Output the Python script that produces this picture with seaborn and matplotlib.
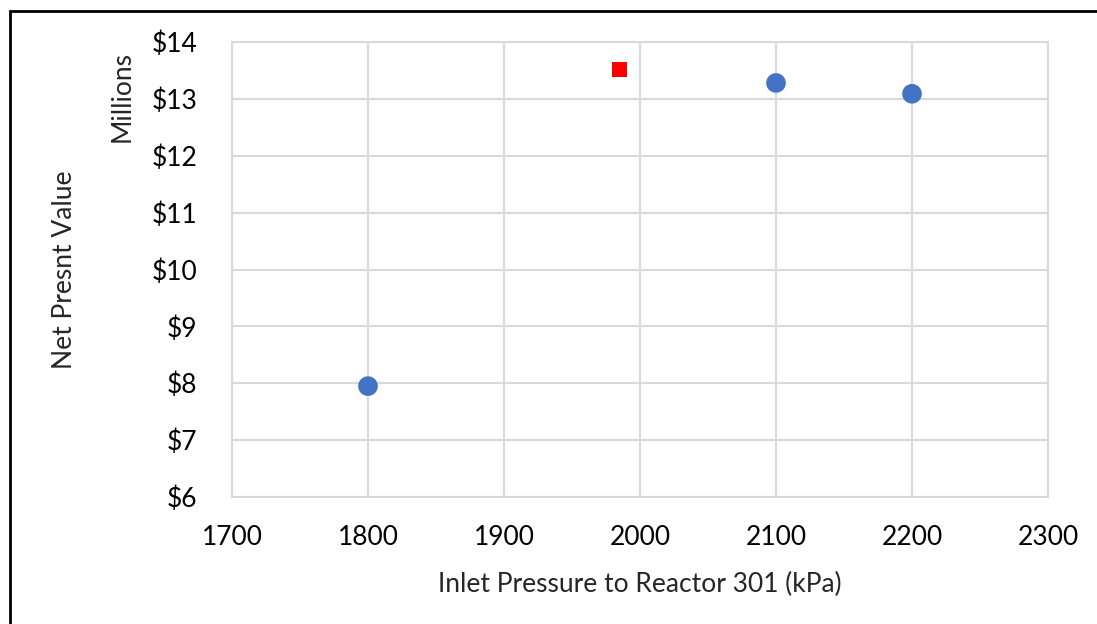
import matplotlib
matplotlib.use("Agg")
import matplotlib.pyplot as plt
import seaborn as sns
import pandas as pd
from matplotlib.patches import Rectangle
from matplotlib.ticker import FuncFormatter

# Data
pressure = [1800, 2100, 2200]
npv = [7.95, 13.28, 13.09]
opt_pressure = [1985]
opt_npv = [13.52]
x_ticks = [1700, 1800, 1900, 2000, 2100, 2200, 2300]
y_ticks = [6, 7, 8, 9, 10, 11, 12, 13, 14]

sns.set_theme(style="white")
plt.rcParams['font.family'] = ['Lato', 'DejaVu Sans']

fig = plt.figure(figsize=(10.97, 6.24), dpi=100)
ax = fig.add_axes([232/1097, 1-497/624, (1048-232)/1097, (497-42)/624])

df = pd.DataFrame({"p": pressure, "v": npv})
df2 = pd.DataFrame({"p": opt_pressure, "v": opt_npv})
sns.scatterplot(data=df, x="p", y="v", ax=ax, color="#4472C4", s=200,
                edgecolor="none", zorder=3)
sns.scatterplot(data=df2, x="p", y="v", ax=ax, color="#FF0000", s=110,
                marker="s", edgecolor="none", zorder=3)

ax.set_xlim(1700, 2300)
ax.set_ylim(6, 14)
ax.set_xticks(x_ticks)
ax.set_yticks(y_ticks)
ax.yaxis.set_major_formatter(FuncFormatter(lambda v, p: f"${int(v)}"))
ax.grid(True, color="#d9d9d9", linewidth=1.5)
ax.set_axisbelow(True)
for s in ax.spines.values():
    s.set_color("#d9d9d9")
    s.set_linewidth(1.5)
ax.tick_params(axis="both", length=0, labelsize=19, colors="black")
ax.tick_params(axis="x", pad=20)
ax.tick_params(axis="y", pad=25)

ax.set_xlabel("Inlet Pressure to Reactor 301 (kPa)", fontsize=19, labelpad=16)
ax.set_ylabel("")
fig.text(64/1097, 1-270/624, "Net Presnt Value", rotation=90, fontsize=19,
         ha="center", va="center")
fig.text(122/1097, 1-97/624, "Millions", rotation=90, fontsize=19,
         ha="center", va="center")

# outer chart border (cropped: left and top visible)
fig.patches.append(Rectangle((10/1097, -0.1), 1.2, 1 - 11/624 + 0.1,
                             transform=fig.transFigure, fill=False,
                             edgecolor="black", linewidth=2))

fig.savefig("out.png", dpi=100)
